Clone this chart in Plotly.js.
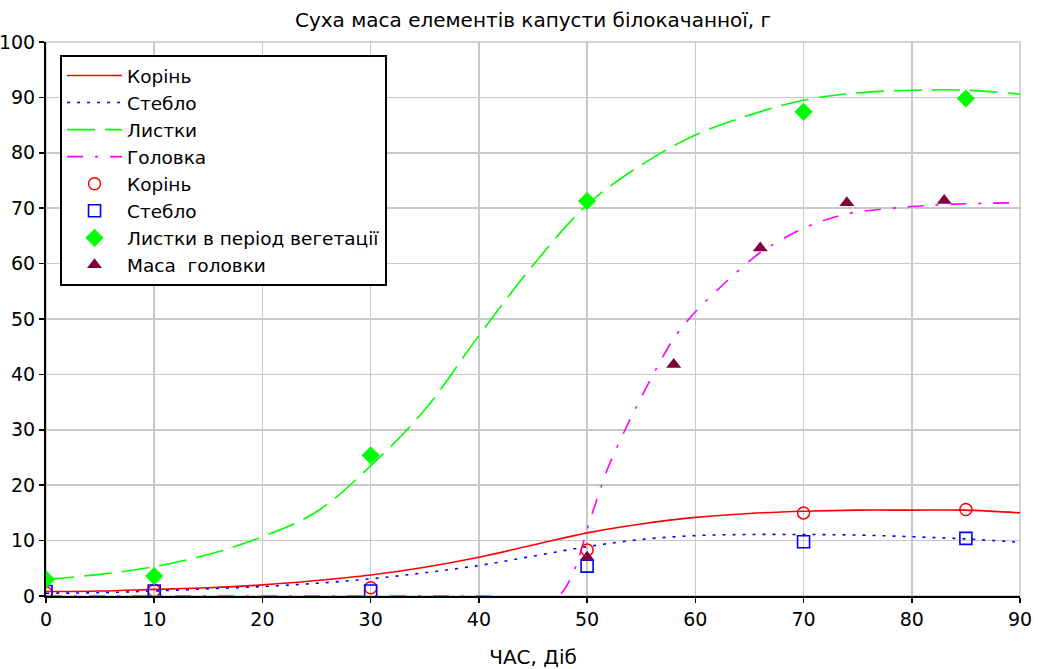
<!DOCTYPE html>
<html>
<head>
<meta charset="utf-8">
<script src="https://cdn.plot.ly/plotly-3.0.1.min.js"></script>
<style>html,body{margin:0;padding:0;background:#fff;}#chart{width:1038px;height:669px;}</style>
</head>
<body>
<div id="chart"></div>
<script>
// Model curves
const tCurve = [0,5,10,15,20,25,30,35,40,45,50,55,60,65,70,75,80,85,90];
const rootCurve = [0.8,0.9,1.2,1.5,2.0,2.8,3.8,5.2,7.0,9.2,11.4,13.0,14.2,14.9,15.3,15.5,15.5,15.5,15.0];
const stemCurve = [0.5,0.6,0.9,1.3,1.7,2.3,3.1,4.2,5.5,7.2,8.9,10.2,10.9,11.1,11.1,11.0,10.7,10.3,9.7];
const leafCurve = [3.0,3.9,5.3,7.5,10.7,15.2,23.5,33.6,47.0,59.7,70.6,77.8,83.2,86.8,89.5,90.8,91.3,91.3,90.6];
const tHeadCurve = [0,10,20,30,40,47.3,48,49,50,51,52,54,56,58,60,63,66,70,74,80,85,90];
const headCurve = [0,0,0,0,0,0,1.5,5.5,12,18,23.5,32,39.6,46.5,51.3,57,62,66.4,69,70.3,70.8,71];

// Observations
const tObs = [0,10,30,50,70,85];
const rootObs = [0.6,1.0,1.5,8.3,15.0,15.6];
const stemObs = [0.8,0.9,0.9,5.4,9.8,10.4];
const leafObs = [3.0,3.6,25.4,71.3,87.4,89.8];
const tHeadObs = [50,58,66,74,83];
const headObs = [7.0,41.8,62.8,71.0,71.4];

const names = ["Корінь","Стебло","Листки","Головка","Корінь","Стебло","Листки в період вегетації","Маса\u00a0 головки"];
const xTicks = [0,10,20,30,40,50,60,70,80,90];
const yTicks = [0,10,20,30,40,50,60,70,80,90,100];

const FONT = "DejaVu Sans";

const traces = [
  {x:tCurve, y:rootCurve, name:names[0], mode:'lines', line:{color:'#ff0000', width:1.6, shape:'spline', smoothing:1}},
  {x:tCurve, y:stemCurve, name:names[1], mode:'lines', line:{color:'#0000ff', width:1.6, dash:'3px,7px', shape:'spline', smoothing:1}},
  {x:tCurve, y:leafCurve, name:names[2], mode:'lines', line:{color:'#00ff00', width:1.6, dash:'28px,10px', shape:'spline', smoothing:1}},
  {x:tHeadCurve, y:headCurve, name:names[3], mode:'lines', line:{color:'#ff00ff', width:1.6, dash:'16px,12px,3px,12px', shape:'spline', smoothing:0.7}},
  {x:tObs, y:rootObs, name:names[4], mode:'markers', marker:{symbol:'circle-open', size:12, color:'#ff0000', line:{width:1.5}}},
  {x:tObs, y:stemObs, name:names[5], mode:'markers', marker:{symbol:'square-open', size:12, color:'#0000ff', line:{width:1.6}}},
  {x:tObs, y:leafObs, name:names[6], mode:'markers', marker:{symbol:'diamond', size:14, color:'#00ff00'}},
  {x:tHeadObs, y:headObs, name:names[7], mode:'markers', marker:{symbol:'triangle-up', size:13, color:'#800040'}}
];

const layout = {
  width:1038, height:669,
  margin:{l:46, r:18, t:42, b:73},
  paper_bgcolor:'#fff', plot_bgcolor:'#fff',
  font:{family:FONT, size:19, color:'#000'},
  title:{text:'Суха маса елементів капусти білокачанної, г', font:{family:FONT, size:20, color:'#000'},
         x:0.5, xref:'paper', y:1-20/669, yref:'container', yanchor:'middle'},
  xaxis:{range:[0,90], tickvals:xTicks, ticktext:xTicks.map(String), showgrid:true, gridcolor:'#c8c8c8', gridwidth:1.5,
         showline:true, linecolor:'#000', linewidth:2, ticks:'outside', ticklen:5, tickwidth:1.5, tickcolor:'#000',
         zeroline:false, tickfont:{family:FONT, size:19, color:'#000'},
         title:{text:'ЧАС, Діб', font:{family:FONT, size:20, color:'#000'}, standoff:22}},
  yaxis:{range:[0,100], tickvals:yTicks, ticktext:yTicks.map(String), showgrid:true, gridcolor:'#c8c8c8', gridwidth:1.5,
         showline:true, linecolor:'#000', linewidth:2, ticks:'outside', ticklen:5, tickwidth:1.5, tickcolor:'#000',
         zeroline:false, tickfont:{family:FONT, size:19, color:'#000'}},
  shapes:[{type:'rect', xref:'paper', yref:'paper', x0:0, x1:1, y0:0, y1:1, line:{color:'#c8c8c8', width:1.5}, layer:'below'}],
  legend:{x:0.0144, y:0.9766, xanchor:'left', yanchor:'top', bgcolor:'#fff', bordercolor:'#000', borderwidth:2,
          font:{family:FONT, size:18.5, color:'#000'}, itemwidth:55, tracegroupgap:0},
  showlegend:true
};

Plotly.newPlot('chart', traces, layout, {displayModeBar:false, staticPlot:true});
</script>
</body>
</html>
